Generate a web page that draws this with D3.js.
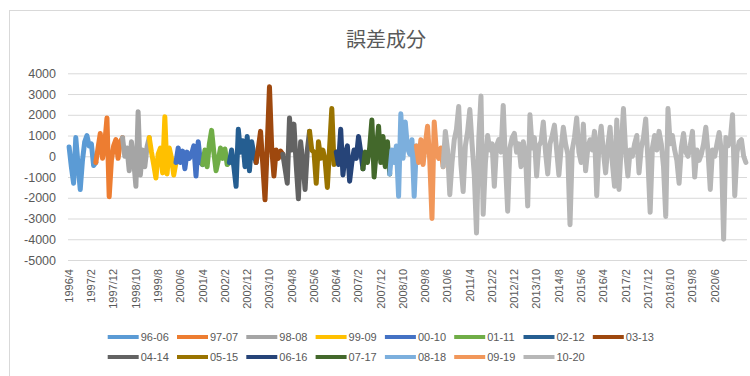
<!DOCTYPE html>
<html>
<head>
<meta charset="utf-8">
<script src="https://cdn.jsdelivr.net/npm/d3@7/dist/d3.min.js"></script>
<style>
  body { margin: 0; background: #ffffff; }
  svg text { font-family: "Liberation Sans", Arial, sans-serif; fill: #595959; }
</style>
</head>
<body>
<svg id="chart" width="750" height="376"></svg>
<script>
// Rolling 10-year windows: name, colour and first month of each window
const seriesNames = ["96-06","97-07","98-08","99-09","00-10","01-11","02-12","03-13",
                     "04-14","05-15","06-16","07-17","08-18","09-19","10-20"];
const seriesColors = ["#5B9BD5","#ED7D31","#A5A5A5","#FFC000","#4472C4","#70AD47","#255E91","#9E480E",
                      "#636363","#997300","#264478","#43682B","#7CAFDD","#F1975A","#B7B7B7"];
const seriesStart = ["1996/4","1997/4","1998/4","1999/4","2000/4","2001/4","2002/4","2003/4",
                     "2004/4","2005/4","2006/4","2007/4","2008/4","2009/4","2010/4"];

// Monthly error component of each window (from its first month)
const v9606 = [450, -500, -1300, 900, -400, -1600, -200, 700, 1000, 500, 600, -450, -300];
const v9707 = [-300, 400, 1100, -100, 600, 1850, -1950, -200, 500, 800, -100, 700, 900];
const v9808 = [900, 0, 400, -700, 700, -200, -1450, 2150, -900, 300, -500, 450, 900];
const v9909 = [900, 200, -400, -1050, 100, 400, -800, 1900, -850, 400, -100, -900, -300];
const v0010 = [-300, 400, -300, 250, -600, 200, -100, 100, 500, -950, 700, -300, -400];
const v0111 = [-400, 300, -500, 600, 1250, 200, -700, -200, 400, -100, 350, -400, -300];
const v0212 = [-300, 300, -500, -1450, 1300, 200, 750, -500, 950, -700, 700, 100, -300];
const v0313 = [-300, 400, 1200, -400, -2100, 500, 3350, 400, -950, 300, -100, 250, 100];
const v0414 = [100, -600, -1300, 1850, 300, 1550, -400, -2050, 700, -300, -1600, 300, 1200];
const v0515 = [1200, 300, 200, -1300, 700, -100, 300, -200, -1500, 400, 2300, -400, 200];
const v0616 = [200, -400, 1300, -900, 100, 500, -1200, -300, 300, -100, 950, 200, -600];
const v0717 = [-600, 200, -300, 400, 1750, -1000, 300, 1450, -300, 950, -500, 700, -850];
const v0818 = [-850, 300, -300, 500, -1930, 2050, -100, 1650, 400, 100, 800, -1930, 500];
const v0919 = [500, -300, 800, -400, 600, 1450, -200, -3000, 1650, 200, -100, 400, -500];
const v1020 = [
  -500, 1200, 300, -1850, -300, 800, 1300, 2400, -400, -1700, 500, 1200,
  2250, 600, -900, -3700, 800, 2900, -2800, -300, 1000, 300, 600, -1450,
  500, 800, 200, 2450, -300, -2650, 400, 900, 1100, 200, 600, -500,
  700, 100, -2400, 2000, 400, 900, -950, 500, 700, 1650, 200, -850,
  600, 1000, 1500, 300, -900, 400, 1400, 600, 100, -3300, 300, 900,
  1850, 200, -300, 1550, -700, 400, 800, 300, 1200, -1900, 600, 1450,
  200, -800, 500, 1400, -300, -1450, 1750, -1600, 500, 2300, 200, -950,
  300, 0, 600, 1000, -800, 400, 900, 1800, -200, -2700, 400, 1000,
  300, 1200, 600, -500, -2900, 2300, 600, 1000, 300, -200, -1300, 400,
  1100, 200, 0, 500, 1200, -1000, 300, -200, 100, 600, 1400, 200,
  -1600, 300, 0, 600, 1150, 200, -4000, 900, 500, 800, 2000, -1900,
  200, 700, 800, 0, -300
];
const seriesValues = [v9606, v9707, v9808, v9909, v0010, v0111, v0212, v0313,
                      v0414, v0515, v0616, v0717, v0818, v0919, v1020];

// Axis labels
const yTicks = [4000, 3000, 2000, 1000, 0, -1000, -2000, -3000, -4000, -5000];
const tickLabels = ["1996/4","1997/2","1997/12","1998/10","1999/8","2000/6","2001/4","2002/2",
  "2002/12","2003/10","2004/8","2005/6","2006/4","2007/2","2007/12","2008/10","2009/8","2010/6",
  "2011/4","2012/2","2012/12","2013/10","2014/8","2015/6","2016/4","2017/2","2017/12","2018/10",
  "2019/8","2020/6"];
const chartTitle = "誤差成分";

// Month categories from 1996/4 up to the last month present in any window
function monthLabel(i) {
  const t = 1996 * 12 + 3 + i;
  return Math.floor(t / 12) + "/" + (t % 12 + 1);
}
const startIdx = seriesStart.map(s => {
  const [yy, mm] = s.split("/").map(Number);
  return (yy * 12 + mm - 1) - (1996 * 12 + 3);
});
const nMonths = d3.max(seriesValues, (v, k) => startIdx[k] + v.length);
const categories = d3.range(nMonths).map(monthLabel);

const svg = d3.select("#chart");

// Chart area
svg.append("rect").attr("x", 9.5).attr("y", 10.5).attr("width", 800).attr("height", 400)
  .attr("fill", "#ffffff").attr("stroke", "#d9d9d9").attr("stroke-width", 1);

svg.append("text").attr("x", 386).attr("y", 47).attr("text-anchor", "middle")
  .style("font-family", "'Noto Sans CJK JP', 'Noto Sans CJK SC', sans-serif")
  .style("font-size", "20px").style("fill", "#595959").text(chartTitle);

const plotLeft = 68, plotRight = 747, plotTop = 73.3, plotBottom = 260;
const x = d3.scaleBand().domain(categories).range([plotLeft, plotRight]);
const y = d3.scaleLinear().domain([-5000, 4000]).range([plotBottom, plotTop]);
const cx = c => x(c) + x.bandwidth() / 2;

// Gridlines and value axis
const yAxis = svg.append("g").attr("transform", `translate(${plotLeft},0)`)
  .call(d3.axisLeft(y).tickValues(yTicks).tickSize(-(plotRight - plotLeft)).tickPadding(12)
    .tickFormat(d => String(d)));
yAxis.select(".domain").remove();
yAxis.selectAll(".tick line").attr("stroke", "#d9d9d9").attr("stroke-width", 1);
yAxis.selectAll(".tick text").style("font-size", "12.5px").style("fill", "#595959");

// Category axis with rotated month labels
const xAxis = svg.append("g").attr("transform", `translate(0,${plotBottom})`)
  .call(d3.axisBottom(x).tickValues(tickLabels).tickSize(0));
xAxis.select(".domain").remove();
xAxis.selectAll(".tick text")
  .attr("transform", "rotate(-90)")
  .attr("x", -9).attr("y", 0).attr("dy", "0.35em")
  .style("text-anchor", "end").style("font-size", "11px").style("fill", "#595959");

// Series lines, later windows drawn on top
const line = d3.line().x(d => cx(d.c)).y(d => y(d.v));
seriesValues.forEach((vals, k) => {
  const pts = vals.map((v, i) => ({ c: categories[startIdx[k] + i], v }));
  svg.append("path").datum(pts)
    .attr("fill", "none").attr("stroke", seriesColors[k]).attr("stroke-width", 5)
    .attr("stroke-linejoin", "round").attr("stroke-linecap", "round")
    .attr("d", line);
});

// Legend, two rows
const legendX = 107.7, legendStep = 69.3, perRow = 8, rowY = [337, 357];
const legend = svg.append("g");
seriesNames.forEach((name, k) => {
  const gx = legendX + (k % perRow) * legendStep;
  const gy = rowY[Math.floor(k / perRow)];
  legend.append("line").attr("x1", gx).attr("x2", gx + 31).attr("y1", gy).attr("y2", gy)
    .attr("stroke", seriesColors[k]).attr("stroke-width", 4);
  legend.append("text").attr("x", gx + 33).attr("y", gy).attr("dy", "0.35em")
    .style("font-size", "11px").text(name);
});
</script>
</body>
</html>
